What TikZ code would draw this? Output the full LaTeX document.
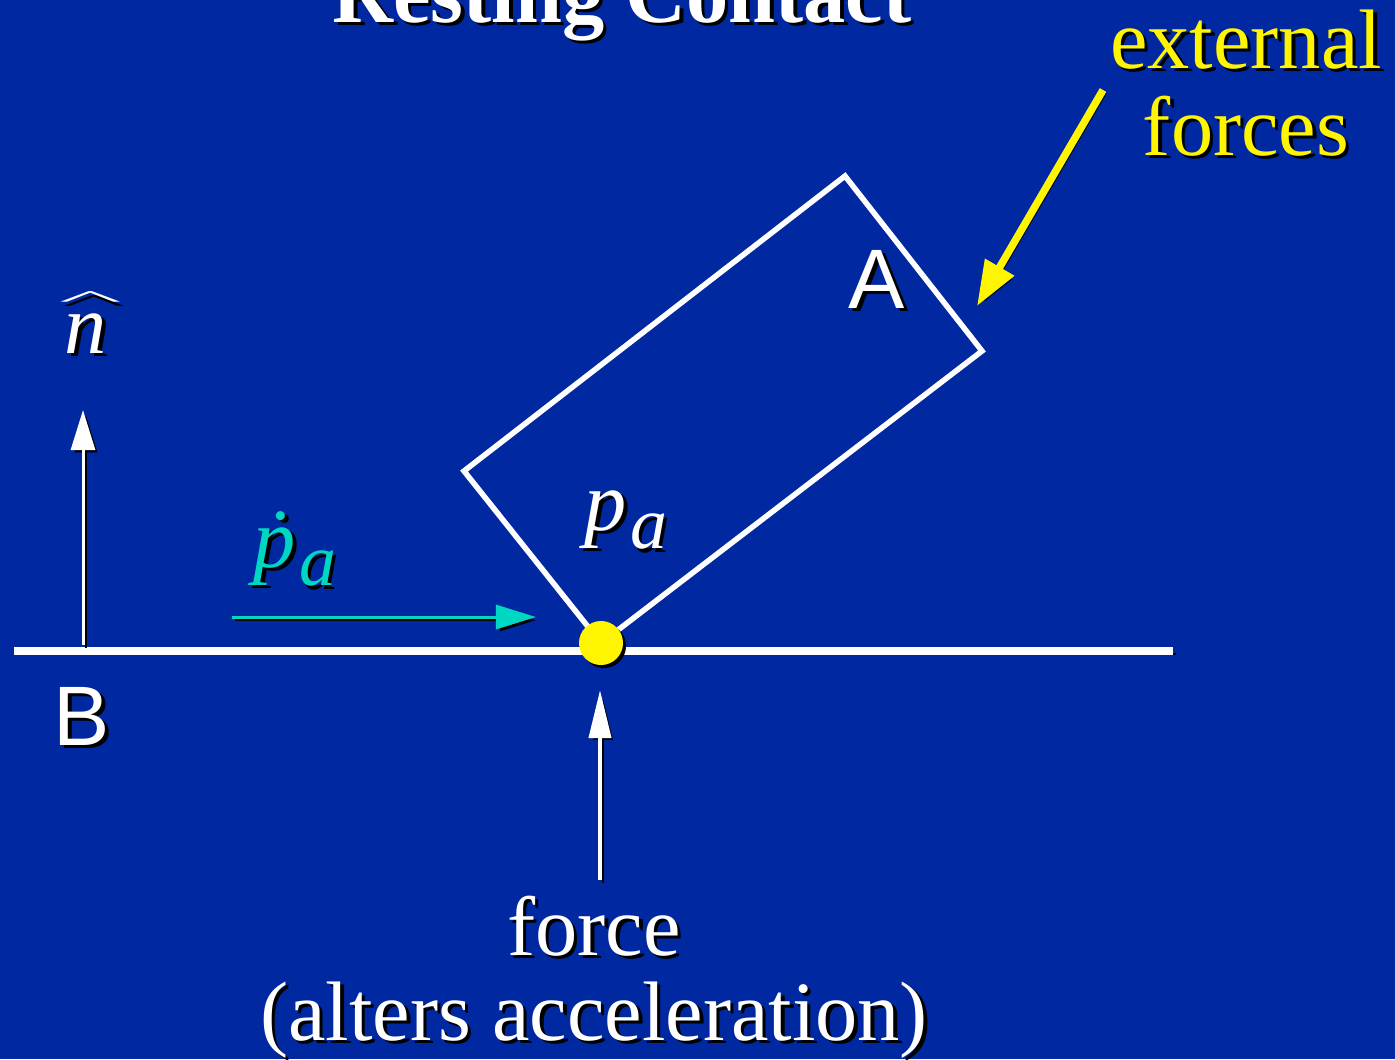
\documentclass[tikz,border=0pt]{standalone}
\usepackage{fontspec}
\setmainfont{Liberation Serif}
\newfontfamily\labelfont{Liberation Sans}
\usetikzlibrary{arrows.meta}
\definecolor{slide}{RGB}{0,40,160}
\definecolor{vel}{RGB}{0,215,195}
\definecolor{ext}{RGB}{255,245,0}
\newcommand{\shd}[1]{\makebox[0pt][l]{\hspace{1pt}\raisebox{-1pt}{\color{black}#1}}#1}
\newcommand{\subidx}[1]{\kern1pt\raisebox{-0.22em}{\fontsize{21}{24}\selectfont\textit{#1}}}
\newcommand{\bighat}[1]{\ooalign{#1\cr\hidewidth\kern2.5pt\raisebox{0.55em}{\scalebox{1.6}[0.27]{\^{}}}\hidewidth\cr}}

\begin{document}
\begin{tikzpicture}[x=0.01cm, y=-0.01cm,
    txt/.style={text=white, inner sep=0pt, anchor=base, font=\fontsize{24}{28}\selectfont},
    drop/.style={preaction={draw=black, transform canvas={shift={(3,3)}}}},
    thin arrow/.style={drop, line width=0.03cm, -{Triangle[length=0.4cm, width=0.24cm]}}]
            \fill[slide] (0,0) rectangle (1395,1059);
            \useasboundingbox (0,0) rectangle (1395,1059);

            \node[txt] (title) at (622,22) {\bfseries\shd{Resting Contact}};

            \coordinate (gl) at (14,651);
            \coordinate (gr) at (1173,651);
            \coordinate (c1) at (601,643);
            \coordinate (c2) at (464,471);
            \coordinate (c3) at (845,176);
            \coordinate (c4) at (982,351);

            \draw [white, line width = 0.055cm, line join = miter] (c1) -- (c2) -- (c3) -- (c4) -- cycle;
            \draw [drop, white, line width = 0.08cm] (gl) -- (gr);
            \node[circle, fill = ext, minimum size = 0.44cm, inner sep = 0pt,
                  preaction = {fill = black, transform canvas = {shift = {(3,3)}}}] (pt) at (c1) {};

            \coordinate (n0) at (83,645);
            \coordinate (n1) at (83,410);
            \coordinate (v0) at (232,617);
            \coordinate (v1) at (536,617);
            \coordinate (f0) at (600,880);
            \coordinate (f1) at (600,690);
            \coordinate (e0) at (1103,90);
            \coordinate (e1) at (977,306);

            \draw [thin arrow, white] (n0) -- (n1);
            \draw [thin arrow, vel] (v0) -- (v1);
            \draw [thin arrow, white, line width = 0.04cm, -{Triangle[length = 0.48cm, width = 0.22cm]}] (f0) -- (f1);
            \draw [drop, ext, line width = 0.075cm, -{Triangle[length = 0.45cm, width = 0.32cm]}] (e0) -- (e1);

            \node[txt] (nhat) at (86,353) {\shd{\bighat{\textit{n}}}};
            \node[txt, text = vel] (pdot) at (295,567) {\shd{\textit{\.p}\subidx{a}}};
            \node[txt] (pa) at (626,530) {\shd{\textit{p}\subidx{a}}};
            \node[txt, font = \fontsize{24}{28}\selectfont\labelfont] (A) at (877,308) {\shd{A}};
            \node[txt, font = \fontsize{24}{28}\selectfont\labelfont] (B) at (82,745) {\shd{B}};
            \node[txt, text = ext] (ext1) at (1246,68) {\shd{external}};
            \node[txt, text = ext] (ext2) at (1246,155) {\shd{forces}};
            \node[txt] (force1) at (594,955) {\shd{force}};
            \node[txt] (force2) at (594,1040) {\shd{(alters acceleration)}};
        \end{tikzpicture}
\end{document}
